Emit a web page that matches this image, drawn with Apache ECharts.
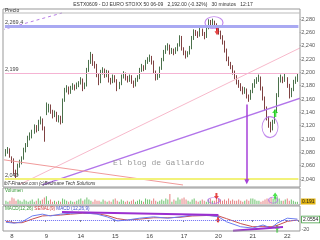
<!DOCTYPE html>
<html><head><meta charset="utf-8">
<script src="https://cdn.jsdelivr.net/npm/echarts@6/dist/echarts.min.js"></script>
<style>html,body{margin:0;padding:0;background:#fff}#c{width:320px;height:240px}</style>
</head><body><div id="c"></div>
<script>
// ---- data ----
const opens = [2078,2081,2084,
2070,2069,2051,2048,2061,2066,2071,2084,2091,2102,2106,2111,2118,2114,2126,2129,2117,
2140,2144,2150,2141,2136,2139,2129,2132,2126,2159,2174,2177,2171,2177,2180,2177,2181,
2186,2189,2177,2181,2204,2216,2226,2214,2211,2196,2186,2201,2204,2196,2201,2189,2186,
2192,2189,2177,2183,2194,2198,2192,2189,2194,2186,2181,2189,2192,2204,2209,2206,2216,
2220,2223,2216,2201,2192,2194,2206,2219,2231,2237,2240,2231,2234,2231,2234,2241,2252,
2235,2231,2226,2229,2237,2252,2261,2259,2256,2264,2259,2254,2267,2276,2273,2276,2271,
2265,2261,2254,2246,2234,2221,2214,2209,2201,2194,2186,2181,2177,2171,2174,2165,2162,
2172,2180,2186,2189,2192,2177,2162,2147,2132,2123,2117,2126,2141,2166,2189,2192,2189,
2190,2181,2166,2174,2186,2190];
const closes = [2081,2084,2075,
2069,2051,2048,2061,2066,2071,2084,2091,2102,2106,2111,2118,2114,2126,2129,2117,2099,
2144,2150,2141,2136,2139,2129,2132,2126,2159,2174,2177,2171,2177,2180,2177,2181,2184,
2189,2177,2181,2204,2216,2226,2214,2211,2196,2186,2201,2204,2196,2201,2189,2186,2194,
2189,2177,2183,2194,2198,2192,2189,2194,2186,2181,2189,2192,2204,2209,2206,2216,2219,
2223,2216,2201,2192,2194,2206,2219,2231,2237,2240,2231,2234,2231,2234,2241,2252,2237,
2231,2226,2229,2237,2252,2261,2259,2256,2264,2259,2254,2267,2276,2273,2276,2271,2267,
2261,2254,2246,2234,2221,2214,2209,2201,2194,2186,2181,2177,2171,2174,2165,2162,2171,
2180,2186,2189,2192,2177,2162,2147,2132,2123,2117,2126,2141,2166,2189,2192,2189,2194,
2181,2166,2174,2186,2190,2192];
const lows = [2074,2078,2072,
2064,2047,2041,2045,2057,2062,2069,2080,2088,2098,2101,2108,2110,2112,2122,2113,2096,
2136,2140,2138,2131,2133,2126,2125,2122,2124,2156,2170,2167,2168,2174,2173,2175,2178,
2182,2172,2175,2179,2201,2213,2210,2206,2193,2181,2184,2197,2192,2193,2185,2182,2184,
2185,2172,2175,2181,2191,2188,2185,2186,2183,2177,2179,2186,2190,2201,2202,2204,2213,
2216,2212,2198,2188,2189,2192,2204,2217,2228,2233,2227,2228,2226,2228,2232,2239,2233,
2226,2221,2223,2227,2235,2249,2255,2252,2254,2255,2250,2252,2265,2269,2270,2267,2263,
2257,2250,2242,2230,2217,2210,2205,2197,2190,2182,2177,2172,2167,2168,2161,2156,2159,
2169,2177,2183,2186,2173,2158,2143,2128,2117,2110,2113,2123,2139,2163,2185,2184,2186,
2177,2161,2163,2172,2183,2186];
const highs = [2085,2088,2086,
2074,2071,2054,2063,2069,2074,2087,2094,2105,2110,2114,2122,2121,2129,2134,2131,2119,
2155,2153,2152,2144,2143,2141,2136,2135,2161,2177,2181,2179,2180,2184,2182,2185,2187,
2193,2191,2185,2207,2219,2231,2228,2217,2213,2198,2204,2208,2206,2204,2203,2192,2197,
2196,2190,2186,2197,2202,2200,2195,2197,2196,2188,2192,2196,2207,2213,2211,2219,2223,
2227,2225,2218,2203,2198,2209,2222,2234,2241,2244,2242,2237,2236,2238,2244,2256,2255,
2238,2233,2232,2240,2255,2265,2264,2262,2267,2266,2261,2270,2280,2279,2281,2278,2274,
2270,2263,2256,2248,2236,2224,2216,2211,2203,2196,2189,2184,2179,2178,2176,2167,2174,
2184,2190,2193,2197,2194,2179,2164,2149,2134,2126,2129,2144,2169,2193,2197,2194,2198,
2193,2183,2177,2189,2194,2198];
const volumes = [3,2,3,
6,5,3,4,3,2,4,3,2,3,4,2,3,5,3,4,6,
7,3,4,2,3,2,3,2,5,4,3,2,3,2,2,3,4,
5,3,4,6,4,3,2,4,3,3,2,4,3,2,3,2,4,
5,3,2,4,3,2,3,2,3,4,2,3,4,3,2,5,4,
4,3,5,3,2,3,4,3,5,4,9,2,4,3,6,4,5,
6,4,3,2,4,5,3,2,3,4,3,2,4,5,3,3,6,
5,4,3,4,3,5,3,4,3,3,4,3,2,3,4,3,5,
5,4,3,3,2,3,4,5,4,6,5,4,7,5,3,3,4,
5,3,4,3,2,2];
const dayStarts = [3,20,37,54,71,88,105,122,139];
const dayLabels = ['8','9','14','15','16','17','20','21','22'];
const macdIdx    = [0,4,8,13,18,22,27,32,38,45,50,55,60,66,73,80,86,92,99,105,109,116,122,127,131,134,139,144];
const macdLine   = [-5,-7,-4,9,13,9,13,15,16,13,7,-2,0,4,7,4,7,11,11,7,-4,-15,-18,-11,-18,-7,4,2];
const macdSignal = [-3,-6,-6,2,9,10,11,13,15,14,10,3,0,2,5,5,6,9,10,9,3,-8,-15,-14,-15,-12,-3,0];
// horizontal levels
const resistLevel = 2269.4, pivotLevel = 2199, supportLevel = 2040;
const lastClose = 2192;
// drawn trend lines [barIndex, price]
const pinkTrend   = [[7,2032],[146,2238]];
const purpleTrend = [[18,2031],[146,2162]];
const redTrend    = [[-1.5,2069],[87.5,2031]];
const dashedTrend = [[-2,2264],[27.7,2289.5]];
const dropArrow   = [[119,2152],[119,2036]];
const topEllipse = [102.8,2275], lowEllipse = [130.5,2118];
const redArrowPt = [104.3,2262], greenArrowPt = [133,2139];
// volume / macd annotations
const volEllipses = [[102.8,3.2],[132,3.6]];
const volRedArrow = [104,7.3], volGreenArrow = [133,7.3];
const macdTrendTop = [[27.7,17.8],[105,11]];
const macdTrendBot = [[112.2,-23.8],[136.9,-15.6]];
const macdRedArrow = [104.8,1], macdGreenArrow = [134,-19];

// ---- chart ----
const ids = closes.map((_, i) => String(i));
const candles = closes.map((c, i) => [opens[i], c, lows[i], highs[i]]);
const volData = volumes.map((v, i) => ({value: v, itemStyle: {color: closes[i] >= opens[i] ? '#6cc06c' : '#e58080'}}));
const downArrow = 'path://M3,0 L7,0 L7,6 L10,6 L5,12 L0,6 L3,6 Z';
const upArrow = 'path://M3,12 L7,12 L7,6 L10,6 L5,0 L0,6 L3,6 Z';
const isDay = i => dayStarts.indexOf(i) >= 0;
const F = 'Liberation Sans, Arial, sans-serif';

const chart = echarts.init(document.getElementById('c'), null, {renderer: 'canvas'});
const hiddenCat = gi => ({type: 'category', gridIndex: gi, data: ids, show: false, boundaryGap: true});
const hiddenVal = gi => ({type: 'value', gridIndex: gi, min: -0.5, max: 144.5, show: false});

chart.setOption({
  animation: false,
  backgroundColor: '#fff',
  grid: [
    {left: 4.9, right: 21.6, top: 6, bottom: 47.7},
    {left: 4.9, right: 21.6, top: 193, bottom: 36},
    {left: 4.9, right: 21.6, top: 202, bottom: 11}
  ],
  xAxis: [
    hiddenCat(0), hiddenVal(0), hiddenCat(1), hiddenVal(1),
    {type: 'category', gridIndex: 2, data: ids, boundaryGap: true,
     axisLine: {show: false},
     axisTick: {show: true, interval: isDay, length: 2, lineStyle: {color: '#888'}},
     axisLabel: {interval: isDay, formatter: (v, i) => dayLabels[dayStarts.indexOf(Number(v))] || '',
                 fontSize: 6, color: '#444', margin: 4, fontFamily: F}},
    hiddenVal(2)
  ],
  yAxis: [
    {type: 'value', gridIndex: 0, position: 'right', min: 2020, max: 2300, interval: 20,
     splitLine: {show: false}, axisLine: {show: false}, axisTick: {show: false},
     axisLabel: {showMinLabel: false, showMaxLabel: false, fontSize: 5.5, color: '#555', margin: 1, fontFamily: F,
                 formatter: v => '-' + v.toLocaleString('en-US')}},
    {type: 'value', gridIndex: 1, min: 0, max: 10, show: false},
    {type: 'value', gridIndex: 2, position: 'right', min: -20, max: 40, interval: 20,
     splitLine: {show: false}, axisLine: {show: false}, axisTick: {show: false},
     axisLabel: {fontSize: 5.5, color: '#555', margin: 3, fontFamily: F, formatter: v => v === -20 ? '-20' : ''}}
  ],
  series: [
    {type: 'candlestick', xAxisIndex: 0, yAxisIndex: 0, data: candles, barWidth: 1.3,
     itemStyle: {color: '#2f8a2f', color0: '#b02222', borderColor: '#1d4d1d', borderColor0: '#5e1212', borderWidth: 0.8},
     markLine: {silent: true, symbol: ['none', 'none'], animation: false,
       data: [
         {yAxis: resistLevel, lineStyle: {color: '#a9a9f2', width: 3, type: 'solid'},
          label: {position: 'insideStartTop', formatter: '2,269.4', fontSize: 5.5, color: '#444', distance: [0, 1], fontFamily: F}},
         {yAxis: pivotLevel, lineStyle: {color: '#f5b3d3', width: 1, type: 'solid'},
          label: {position: 'insideStartTop', formatter: '2,199', fontSize: 5.5, color: '#444', distance: [0, 1], fontFamily: F}},
         {yAxis: supportLevel, lineStyle: {color: '#f2f27a', width: 2, type: 'solid'},
          label: {position: 'insideStartTop', formatter: '2,040', fontSize: 5.5, color: '#444', distance: [0, 1], fontFamily: F}},
         {yAxis: lastClose, lineStyle: {opacity: 0},
          label: {position: 'end', formatter: '2,192', fontSize: 5.5, color: '#222', backgroundColor: '#e2b413',
                  padding: [1, 1, 0, 1], distance: 3, fontFamily: F}}
       ]}},
    {type: 'line', xAxisIndex: 1, yAxisIndex: 0, data: pinkTrend, symbol: 'none', clip: true,
     lineStyle: {color: '#f7b9cb', width: 1}},
    {type: 'line', xAxisIndex: 1, yAxisIndex: 0, data: purpleTrend, symbol: 'none', clip: true,
     lineStyle: {color: '#b274ea', width: 1.3}},
    {type: 'line', xAxisIndex: 1, yAxisIndex: 0, data: redTrend, symbol: 'none', clip: true,
     lineStyle: {color: '#f09a9a', width: 1}},
    {type: 'line', xAxisIndex: 1, yAxisIndex: 0, data: dashedTrend, symbol: 'none', clip: true,
     lineStyle: {color: '#b77fe6', width: 1, type: [3, 3]},
     markLine: {silent: true, symbol: ['none', 'triangle'], symbolSize: [5, 5], animation: false,
       lineStyle: {color: '#a640d8', width: 1.5, type: 'solid'}, label: {show: false},
       data: [[{coord: dropArrow[0]}, {coord: dropArrow[1]}]]}},
    {type: 'scatter', xAxisIndex: 1, yAxisIndex: 0, silent: true,
     data: [{value: topEllipse, symbolSize: [18, 12]}, {value: lowEllipse, symbolSize: [16, 21]}],
     itemStyle: {color: 'rgba(0,0,0,0)', borderColor: '#b36ee8', borderWidth: 1}},
    {type: 'scatter', xAxisIndex: 1, yAxisIndex: 0, silent: true,
     data: [{value: redArrowPt, symbol: downArrow, symbolSize: [5, 8], itemStyle: {color: '#e01818'}},
            {value: greenArrowPt, symbol: upArrow, symbolSize: [6, 8], itemStyle: {color: '#22dd22'}}]},
    // volume
    {type: 'bar', xAxisIndex: 2, yAxisIndex: 1, data: volData, barWidth: 0.8},
    {type: 'scatter', xAxisIndex: 3, yAxisIndex: 1, silent: true,
     data: [{value: volEllipses[0], symbolSize: [12, 6]}, {value: volEllipses[1], symbolSize: [9, 6]}],
     itemStyle: {color: 'rgba(0,0,0,0)', borderColor: '#b36ee8', borderWidth: 1}},
    {type: 'scatter', xAxisIndex: 3, yAxisIndex: 1, silent: true,
     data: [{value: volRedArrow, symbol: downArrow, symbolSize: [5, 6], itemStyle: {color: '#e01818'}},
            {value: volGreenArrow, symbol: upArrow, symbolSize: [5, 7], itemStyle: {color: '#22dd22'}}]},
    // macd
    {type: 'line', xAxisIndex: 5, yAxisIndex: 2, data: macdIdx.map((x, i) => [x, macdSignal[i]]), symbol: 'none',
     lineStyle: {color: '#c85050', width: 1},
     markLine: {silent: true, symbol: ['none', 'none'], animation: false, label: {show: false},
       data: [{yAxis: 0, lineStyle: {color: '#6a6af5', width: 1, type: [1, 1]}}]}},
    {type: 'line', xAxisIndex: 5, yAxisIndex: 2, data: macdIdx.map((x, i) => [x, macdLine[i]]), symbol: 'none',
     lineStyle: {color: '#6c7ef0', width: 1}},
    {type: 'line', xAxisIndex: 5, yAxisIndex: 2, data: macdTrendTop, symbol: 'none', clip: false,
     lineStyle: {color: '#9b2fd0', width: 2}},
    {type: 'line', xAxisIndex: 5, yAxisIndex: 2, data: macdTrendBot, symbol: 'none', clip: false,
     lineStyle: {color: '#9b2fd0', width: 2}},
    {type: 'scatter', xAxisIndex: 5, yAxisIndex: 2, silent: true, clip: false,
     data: [{value: macdRedArrow, symbol: downArrow, symbolSize: [5, 7], itemStyle: {color: '#e01818'}},
            {value: macdGreenArrow, symbol: upArrow, symbolSize: [5, 8], itemStyle: {color: '#22dd22'}}]}
  ],
  graphic: [
    {type: 'rect', shape: {x: 3, y: 9, width: 297, height: 178}, style: {fill: 'none', stroke: '#999', lineWidth: 1}, z: 100, silent: true},
    {type: 'line', shape: {x1: 3, y1: 13, x2: 300, y2: 13}, style: {stroke: '#bbb', lineWidth: 1}, z: 100, silent: true},
    {type: 'rect', shape: {x: 3, y: 188, width: 297, height: 17}, style: {fill: 'none', stroke: '#999', lineWidth: 1}, z: 100, silent: true},
    {type: 'rect', shape: {x: 3, y: 206, width: 297, height: 25}, style: {fill: 'none', stroke: '#999', lineWidth: 1}, z: 100, silent: true},
    {type: 'text', x: 163, y: 4.5, z: 100, silent: true,
     style: {text: 'ESTX0609 - DJ EURO STOXX 50 06-09   2,192.00 (-0.32%)   30 minutos   12:17', fill: '#333',
             font: '5px ' + F, textAlign: 'center', textVerticalAlign: 'middle'}},
    {type: 'text', x: 5, y: 11, z: 100, silent: true,
     style: {text: 'Precio', fill: '#333', font: '5px ' + F, textVerticalAlign: 'middle'}},
    {type: 'text', x: 113, y: 163, z: 100, silent: true,
     style: {text: 'El blog de Gallardo', fill: '#9a9a9a', font: '8px "Liberation Mono", "DejaVu Sans Mono", monospace', textVerticalAlign: 'middle'}},
    {type: 'text', x: 4, y: 183.5, z: 100, silent: true,
     style: {text: 'ibT-Finance.com (c)Bedmane Tech Solutions', fill: '#333', font: 'italic 4.6px ' + F, textVerticalAlign: 'middle'}},
    {type: 'text', x: 5, y: 191, z: 100, silent: true,
     style: {text: 'Volumen', fill: '#3a9a3a', font: '4.6px ' + F, textVerticalAlign: 'middle'}},
    {type: 'text', x: 5, y: 208.5, z: 100, silent: true,
     style: {text: '{g|MACD(12,26)} {r|SEÑAL(9)} {b|MACD (12,26,9)}', font: '4.6px ' + F, textVerticalAlign: 'middle',
             rich: {g: {fill: '#3a9a3a', font: '4.6px ' + F}, r: {fill: '#d04040', font: '4.6px ' + F}, b: {fill: '#4050d0', font: '4.6px ' + F}}}},
    {type: 'text', x: 301, y: 201.5, z: 100, silent: true,
     style: {text: '0.191', fill: '#222', font: '5px ' + F, textVerticalAlign: 'middle', backgroundColor: '#e2b413', padding: [1, 1, 0, 1]}},
    {type: 'text', x: 302, y: 219.5, z: 100, silent: true,
     style: {text: '2.0554', fill: '#222', font: '5px ' + F, textVerticalAlign: 'middle', backgroundColor: '#fff', borderColor: '#3a9a3a', borderWidth: 0.8, padding: [1, 1, 0, 1]}}
  ]
});
</script></body></html>
